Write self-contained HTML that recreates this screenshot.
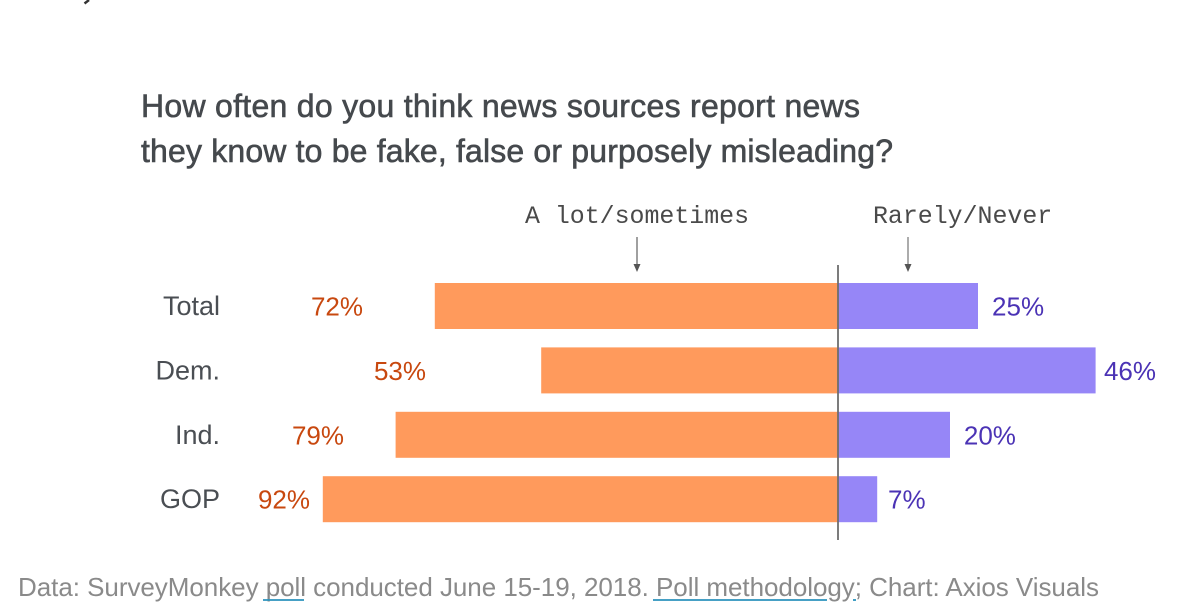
<!DOCTYPE html>
<html lang="en">
<head>
<meta charset="utf-8">
<title>How often do news sources report fake news</title>
<style>
html,body{margin:0;padding:0;background:#fff;width:1200px;height:611px;overflow:hidden}
svg{display:block}
text{font-family:"Liberation Sans",sans-serif}
.title{font-size:32px;fill:#45494d;stroke:#45494d;stroke-width:.6px}
.mono{font-family:"Liberation Mono",monospace;font-size:24.9px;fill:#4a4a4a}
.cat{font-size:27px;fill:#4a4e53;text-anchor:end}
.val{font-size:26px}
.foot{font-size:26px;fill:#8a8a8a}
</style>
</head>
<body>
<svg id="chart" xmlns="http://www.w3.org/2000/svg" width="1200" height="611" viewBox="0 0 1200 611">
  <rect x="0" y="0" width="1200" height="611" fill="#ffffff"/>
  <path d="M89 0 L84.5 3.5" stroke="#333" stroke-width="2.4" fill="none"/>
  <text class="title" x="141" y="117" textLength="719" lengthAdjust="spacing">How often do you think news sources report news</text>
  <text class="title" x="141" y="162" textLength="752" lengthAdjust="spacing">they know to be fake, false or purposely misleading?</text>

  <text class="mono" x="525" y="223">A lot/sometimes</text>
  <text class="mono" x="873" y="223">Rarely/Never</text>
  <g>
    <line x1="637" y1="237" x2="637" y2="268" stroke="#777" stroke-width="1.4"/>
    <path d="M633.5 264 L640.5 264 L637 272 Z" fill="#555"/>
  </g>
  <g>
    <line x1="908" y1="237" x2="908" y2="268" stroke="#888" stroke-width="1.4"/>
    <path d="M904.5 264 L911.5 264 L908 272 Z" fill="#555"/>
  </g>

  <g id="bars"></g>
  <line x1="838" y1="265" x2="838" y2="540" stroke="#6e6e6e" stroke-width="1.8"/>

  <text class="foot" x="18" y="596" textLength="1081" lengthAdjust="spacing">Data: SurveyMonkey <tspan>poll</tspan> conducted June 15-19, 2018. <tspan>Poll methodology</tspan>; Chart: Axios Visuals</text>
  <line x1="263" y1="600" x2="304" y2="600" stroke="#2b93bd" stroke-width="1.8"/>
  <line x1="653" y1="600" x2="827" y2="600" stroke="#2b93bd" stroke-width="1.8"/>
  <line x1="853" y1="600" x2="856" y2="600" stroke="#2b93bd" stroke-width="1.8"/>
</svg>
<script>
const categories = ['Total', 'Dem.', 'Ind.', 'GOP'];
const aLotSometimes = [72, 53, 79, 92];
const rarelyNever = [25, 46, 20, 7];

const NS = 'http://www.w3.org/2000/svg';
const group = document.getElementById('bars');

function xLeft(v) { return 838 - v * 5.6; }
function xRight(v) { return 838 + v * 5.6; }
function yBand(i) { return 283 + i * 64.4; }
function leftLabelEnd(v) { return 426 - 3.316 * (v - 53) + 0.01708 * (v - 53) * (v - 72) - 0.000465 * (v - 53) * (v - 72) * (v - 92); }
function rightLabelStart(v) { return 888 + 5.78 * (v - 7) - 0.01154 * (v - 7) * (v - 25); }
const bandHeight = 46;

function svgEl(tag, attrs) {
  const el = document.createElementNS(NS, tag);
  Object.keys(attrs).forEach(function (k) { el.setAttribute(k, attrs[k]); });
  group.appendChild(el);
  return el;
}

categories.forEach(function (cat, i) {
  const key = cat.replace('.', '').toLowerCase();
  const y = yBand(i);
  const baseline = y + 32.5;
  const left = aLotSometimes[i];
  const right = rarelyNever[i];

  const catLabel = svgEl('text', { x: 220, y: baseline - 0.5, class: 'cat' });
  
  
  catLabel.textContent = cat;

  const leftBar = svgEl('rect', { x: xLeft(left), y: y, width: 838 - xLeft(left), height: bandHeight, fill: '#ff9a5c' });
  
  

  const rightBar = svgEl('rect', { x: 838, y: y, width: xRight(right) - 838, height: bandHeight, fill: '#9686f7' });
  
  

  const leftVal = svgEl('text', { x: leftLabelEnd(left), y: baseline, class: 'val', fill: '#c8480f', 'text-anchor': 'end' });
  
  
  leftVal.textContent = left + '%';

  const rightVal = svgEl('text', { x: rightLabelStart(right), y: baseline, class: 'val', fill: '#4b33b5' });
  
  
  rightVal.textContent = right + '%';
});
</script>
</body>
</html>
